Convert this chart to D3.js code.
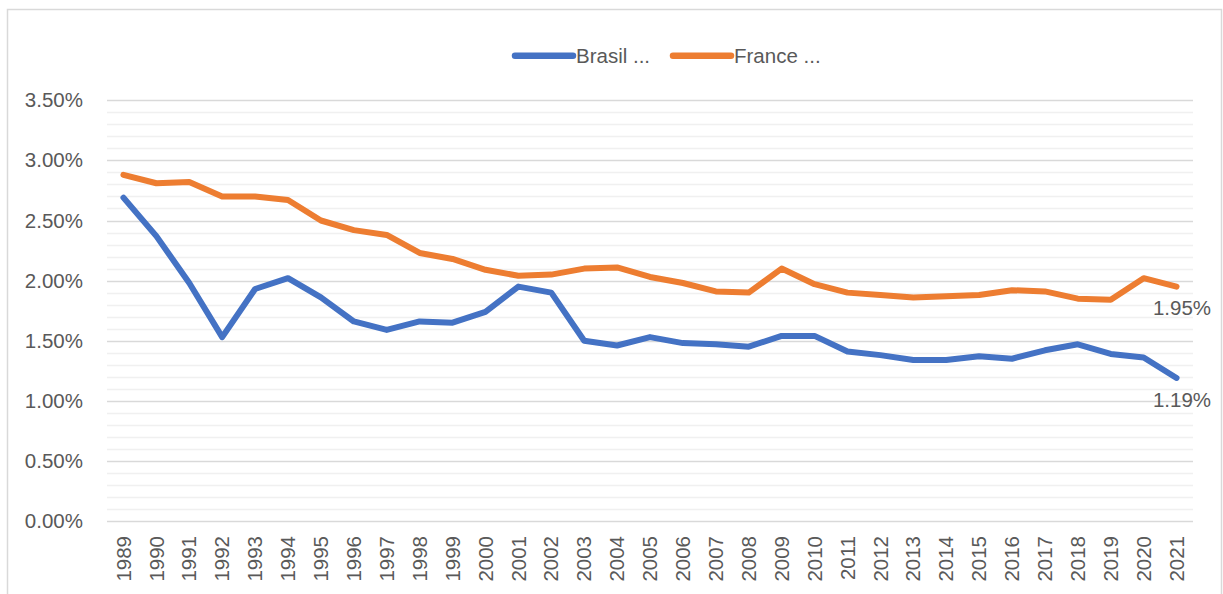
<!DOCTYPE html>
<html>
<head>
<meta charset="utf-8">
<script src="https://cdn.jsdelivr.net/npm/d3@7"></script>
<style>
  html, body { margin: 0; padding: 0; background: #fff; }
  svg { display: block; font-family: "Liberation Sans", Arial, sans-serif; }
</style>
</head>
<body>
<svg id="chart" width="1223" height="594"></svg>
<script>
const years = ["1989","1990","1991","1992","1993","1994","1995","1996","1997","1998","1999","2000","2001","2002","2003","2004","2005","2006","2007","2008","2009","2010","2011","2012","2013","2014","2015","2016","2017","2018","2019","2020","2021"];
const brasil = [2.69,2.37,1.98,1.53,1.93,2.02,1.86,1.66,1.59,1.66,1.65,1.74,1.95,1.90,1.50,1.46,1.53,1.48,1.47,1.45,1.54,1.54,1.41,1.38,1.34,1.34,1.37,1.35,1.42,1.47,1.39,1.36,1.19];
const france = [2.88,2.81,2.82,2.70,2.70,2.67,2.50,2.42,2.38,2.23,2.18,2.09,2.04,2.05,2.10,2.11,2.03,1.98,1.91,1.90,2.10,1.97,1.90,1.88,1.86,1.87,1.88,1.92,1.91,1.85,1.84,2.02,1.95];
const seriesNames = ["Brasil ...", "France ..."];
const seriesColors = ["#4472C4", "#ED7D31"];
const majorTicks = [0, 0.5, 1.0, 1.5, 2.0, 2.5, 3.0, 3.5];
const minorTicks = d3.range(0, 35).map(i => i / 10).filter(v => Math.abs(v * 2 - Math.round(v * 2)) > 1e-6);

const svg = d3.select("#chart");
const textColor = "#595959";
const fontSize = "20.5px";

// outer frame
svg.append("rect").attr("x", 7.5).attr("y", 9.5).attr("width", 1214).attr("height", 590)
  .attr("fill", "#fff").attr("stroke", "#d9d9d9").attr("stroke-width", 1.5);

const pLeft = 107, pRight = 1193, pTop = 100.3, pBottom = 521;
const x = d3.scaleBand().domain(years).range([pLeft, pRight]);
const y = d3.scaleLinear().domain([0, 3.5]).range([pBottom, pTop]);

// minor gridlines
svg.append("g").selectAll("line").data(minorTicks).join("line")
  .attr("x1", pLeft).attr("x2", pRight)
  .attr("y1", d => Math.round(y(d)) + 0.5).attr("y2", d => Math.round(y(d)) + 0.5)
  .attr("stroke", "#f0f0f0").attr("stroke-width", 1.5);

// major gridlines
svg.append("g").selectAll("line").data(majorTicks).join("line")
  .attr("x1", pLeft).attr("x2", pRight)
  .attr("y1", d => Math.round(y(d)) + 0.5).attr("y2", d => Math.round(y(d)) + 0.5)
  .attr("stroke", "#d9d9d9").attr("stroke-width", 1.5);

// y axis
const yAxis = d3.axisLeft(y).tickValues(majorTicks).tickFormat(d => d.toFixed(2) + "%").tickSize(0).tickPadding(0);
const gy = svg.append("g").attr("transform", `translate(${pLeft - 24},0)`).call(yAxis);
gy.select(".domain").remove();
gy.selectAll("text").attr("fill", textColor).style("font-size", fontSize)
  .style("font-family", "'Liberation Sans', Arial, sans-serif");

// x axis
const xAxis = d3.axisBottom(x).tickSize(0).tickPadding(0);
const gx = svg.append("g").attr("transform", `translate(0,${pBottom})`).call(xAxis);
gx.select(".domain").remove();
gx.selectAll("text")
  .attr("fill", textColor).style("font-size", fontSize)
  .style("font-family", "'Liberation Sans', Arial, sans-serif")
  .attr("text-anchor", "end")
  .attr("dy", "0.35em")
  .attr("transform", "translate(0,15) rotate(-90)")
  .attr("x", 0).attr("y", 0);

// lines
const line = d3.line().x((d, i) => x(years[i]) + x.bandwidth() / 2).y(d => y(d));
[brasil, france].forEach((s, k) => {
  svg.append("path").datum(s).attr("d", line)
    .attr("fill", "none").attr("stroke", seriesColors[k]).attr("stroke-width", 6)
    .attr("stroke-linejoin", "round").attr("stroke-linecap", "round");
});

// end labels
[brasil, france].forEach((s, k) => {
  const last = s[s.length - 1];
  svg.append("text")
    .attr("x", x(years[years.length - 1]) + x.bandwidth() / 2 + 5.5)
    .attr("y", y(last) + 21.5)
    .attr("dy", "0.35em")
    .attr("text-anchor", "middle")
    .attr("fill", textColor).style("font-size", fontSize)
    .text(last.toFixed(2) + "%");
});

// legend
const legendItems = [{x1: 515, x2: 573}, {x1: 673, x2: 731}];
legendItems.forEach((it, k) => {
  svg.append("line").attr("x1", it.x1).attr("x2", it.x2).attr("y1", 55.7).attr("y2", 55.7)
    .attr("stroke", seriesColors[k]).attr("stroke-width", 6.5).attr("stroke-linecap", "round");
  svg.append("text").attr("x", it.x2 + 3).attr("y", 55.7).attr("dy", "0.35em")
    .attr("fill", textColor).style("font-size", fontSize).text(seriesNames[k]);
});
</script>
</body>
</html>
